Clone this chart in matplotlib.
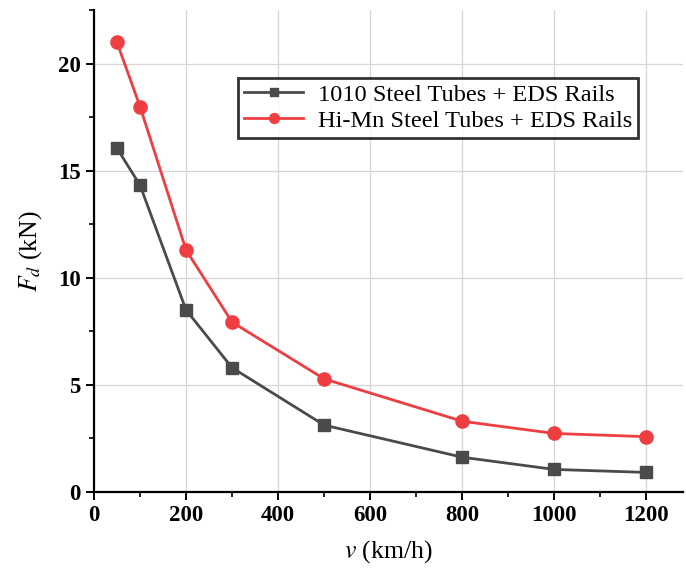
#!/usr/bin/env python3
"""Drag force vs. speed for two steel tube types on EDS rails."""

import matplotlib
matplotlib.use("Agg")
import matplotlib.pyplot as plt
from matplotlib.ticker import MultipleLocator

plt.rcParams["font.family"] = ["Liberation Serif", "DejaVu Serif"]
plt.rcParams["mathtext.fontset"] = "stix"

speed = [50, 100, 200, 300, 500, 800, 1000, 1200]
fd_1010 = [16.05, 14.33, 8.5, 5.8, 3.12, 1.62, 1.05, 0.91]
fd_himn = [21.0, 18.0, 11.3, 7.93, 5.28, 3.3, 2.73, 2.58]
labels = ["1010 Steel Tubes + EDS Rails", "Hi-Mn Steel Tubes + EDS Rails"]

fig = plt.figure(figsize=(6.86, 5.70), dpi=100)
ax = fig.add_axes([0.137, 0.137, 0.859, 0.845])

ax.plot(speed, fd_1010, color="#4a4a4a", lw=2, marker="s", ms=8.5, label=labels[0])
ax.plot(speed, fd_himn, color="#ef3e42", lw=2, marker="o", ms=9.5, label=labels[1])

ax.set_xlim(0, 1280)
ax.set_ylim(0, 22.5)
ax.xaxis.set_major_locator(MultipleLocator(200))
ax.xaxis.set_minor_locator(MultipleLocator(100))
ax.yaxis.set_major_locator(MultipleLocator(5))
ax.yaxis.set_minor_locator(MultipleLocator(2.5))
ax.grid(True, which="major", color="#d6d6d6", lw=0.9)
ax.set_axisbelow(True)

for s in ("top", "right"):
    ax.spines[s].set_visible(False)
for s in ("left", "bottom"):
    ax.spines[s].set_linewidth(1.6)
ax.tick_params(which="major", direction="out", length=6, width=1.4, labelsize=16.5)
ax.tick_params(which="minor", direction="out", length=3.5, width=1.2)
for t in ax.get_xticklabels() + ax.get_yticklabels():
    t.set_fontweight("bold")

ax.set_xlabel(r"$v$ (km/h)", fontsize=18.5, labelpad=9)
ax.set_ylabel(r"$F_d$ (kN)", fontsize=18.5, labelpad=10)

leg = ax.legend(loc="upper left", bbox_to_anchor=(0.245, 0.86), fontsize=17.6,
                frameon=True, fancybox=False, edgecolor="black",
                borderpad=0.25, labelspacing=0.15, handlelength=2.4,
                handletextpad=0.6, borderaxespad=0, markerscale=0.75)
leg.get_frame().set_linewidth(2)

plt.savefig("out.png", dpi=100)
